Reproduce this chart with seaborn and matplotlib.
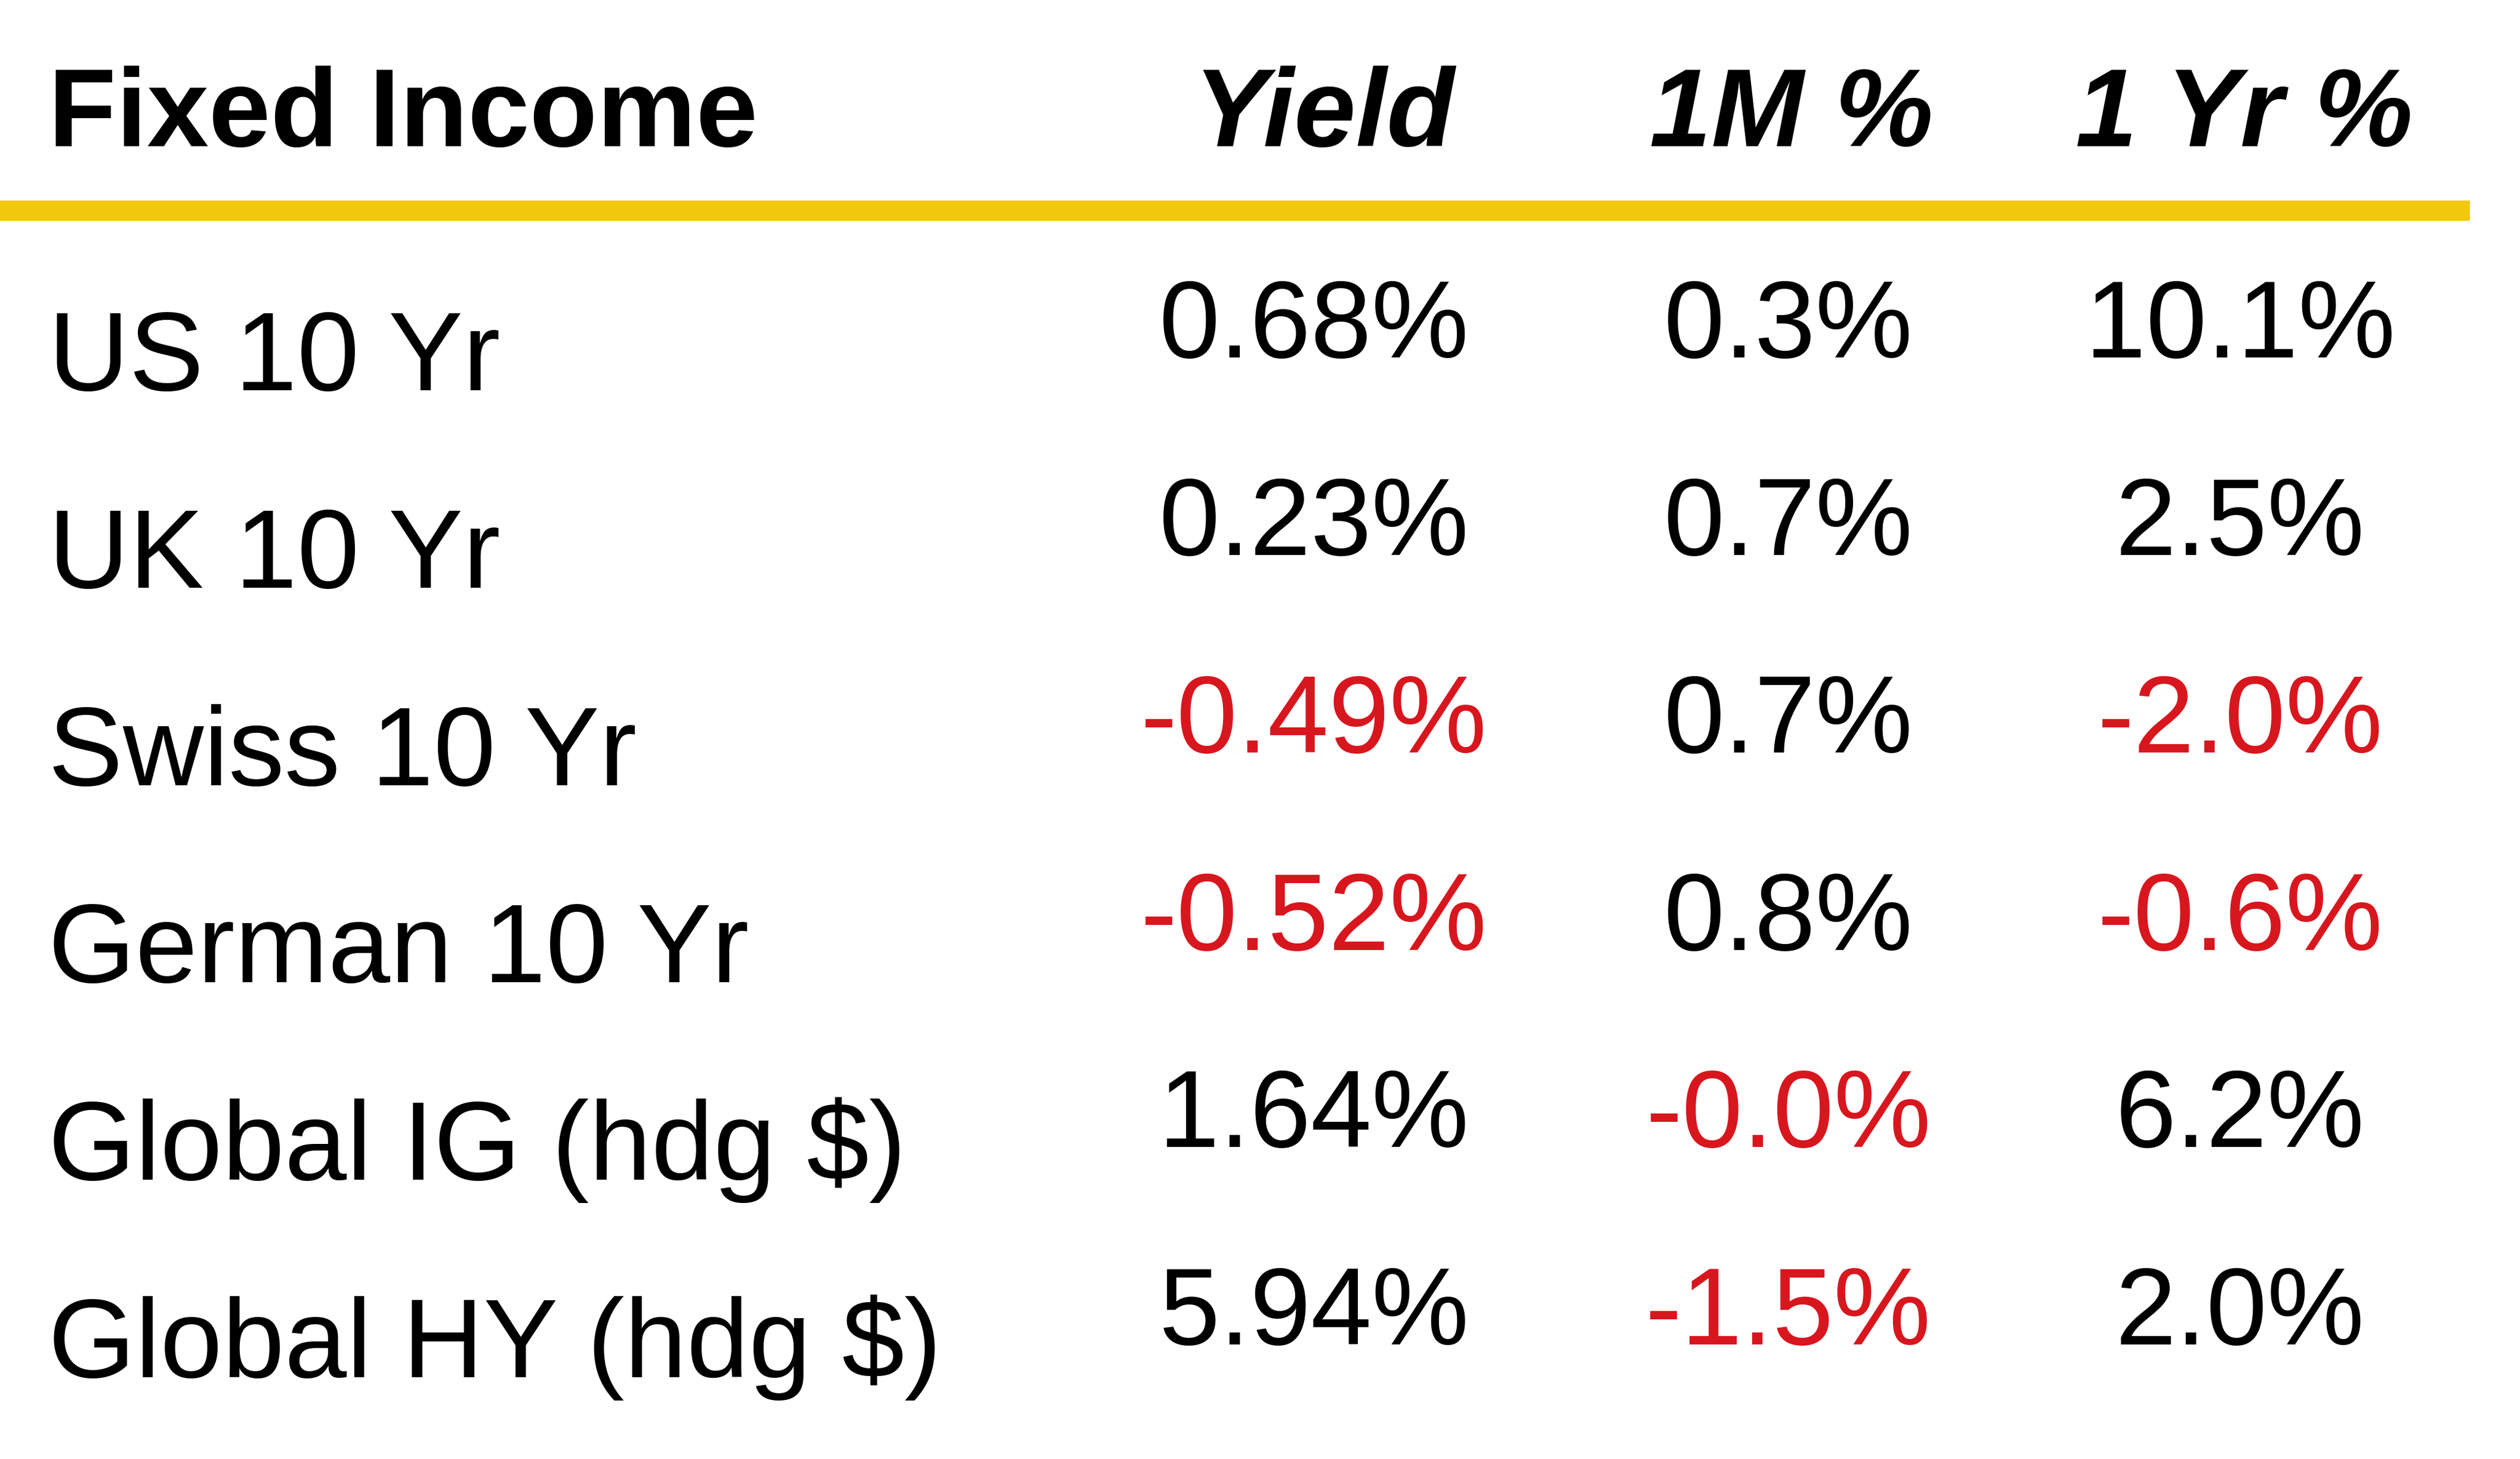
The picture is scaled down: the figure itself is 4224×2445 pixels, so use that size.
import matplotlib
matplotlib.use("Agg")
import matplotlib.pyplot as plt
import seaborn as sns

# table content
row_labels = ["US 10 Yr", "UK 10 Yr", "Swiss 10 Yr", "German 10 Yr",
              "Global IG (hdg $)", "Global HY (hdg $)"]
col_headers = ["Yield", "1M %", "1 Yr %"]
yield_pct = [0.68, 0.23, -0.49, -0.52, 1.64, 5.94]
one_month = [0.3, 0.7, 0.7, 0.8, -0.0, -1.5]
one_year = [10.1, 2.5, -2.0, -0.6, 6.2, 2.0]
# sign as shown (the -0.0% cell is printed in red)
neg_flags = [
    [False, False, False],
    [False, False, False],
    [True, False, True],
    [True, False, True],
    [False, True, False],
    [False, True, False],
]

sns.set_theme(style="white")
plt.rcParams["font.family"] = ["Liberation Sans", "DejaVu Sans"]

RED = "#D8161E"
YELLOW = "#F2C80F"

fig = plt.figure(figsize=(42.24, 24.45), dpi=100)
ax = fig.add_axes([0, 0, 1, 1])
ax.set_xlim(0, 1)
ax.set_ylim(5.414, -1.977)
ax.axis("off")

label_x = 0.0191
value_x = [0.5214, 0.7097, 0.8890]
header_x = [0.5255, 0.7110, 0.8906]
value_dy = -0.166

ax.text(label_x, -1.236, "Fixed Income", fontsize=134, fontweight="bold",
        ha="left", va="baseline", color="black")
for x, h in zip(header_x, col_headers):
    ax.text(x, -1.236, h, fontsize=134, fontweight="bold", fontstyle="italic",
            ha="center", va="baseline", color="black")

ax.hlines(-0.91, 0, 0.98, color=YELLOW, linewidth=24.5, capstyle="butt")

for i, lab in enumerate(row_labels):
    ax.text(label_x, i, lab, fontsize=135, ha="left", va="baseline", color="black")
    cells = [f"{yield_pct[i]:.2f}%", f"{one_month[i]:.1f}%", f"{one_year[i]:.1f}%"]
    for j, txt in enumerate(cells):
        if neg_flags[i][j] and not txt.startswith("-"):
            txt = "-" + txt
        ax.text(value_x[j], i + value_dy, txt, fontsize=132, ha="center",
                va="baseline", color=RED if neg_flags[i][j] else "black")

fig.savefig("out.png", dpi=100, facecolor="white")
